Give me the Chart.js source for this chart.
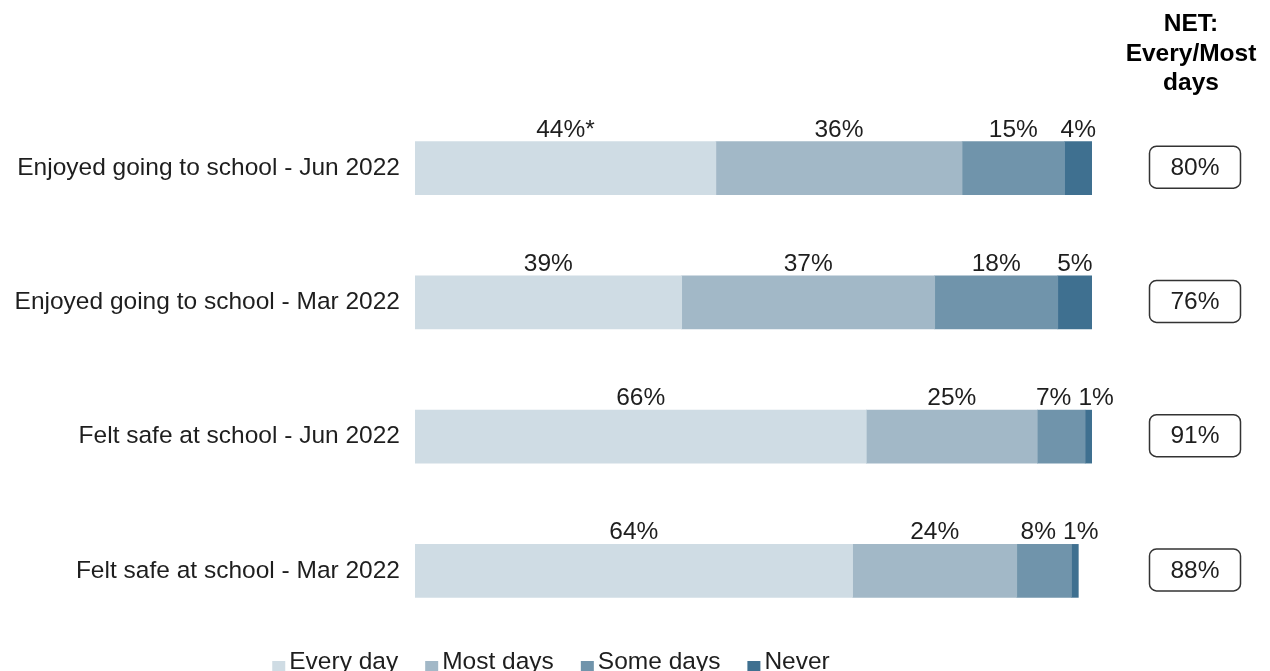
<!DOCTYPE html>
<html>
<head>
<meta charset="utf-8">
<script src="https://cdn.jsdelivr.net/npm/chart.js@4.4.0/dist/chart.umd.min.js"></script>
<style>
  html, body { margin: 0; padding: 0; background: #fff; overflow: hidden; }
</style>
</head>
<body>
<canvas id="myChart" width="1270" height="671"></canvas>
<script>
var categories = [
  'Enjoyed going to school - Jun 2022',
  'Enjoyed going to school - Mar 2022',
  'Felt safe at school - Jun 2022',
  'Felt safe at school - Mar 2022'
];
var everyDay = [44, 39, 66, 64];
var mostDays = [36, 37, 25, 24];
var someDays = [15, 18, 7, 8];
var never = [4, 5, 1, 1];
// significance marker printed after the "Every day" value
var everyDayNote = ['*', '', '', ''];

var seriesNames = ['Every day', 'Most days', 'Some days', 'Never'];
var colours = ['#cfdce4', '#a2b8c7', '#7094ab', '#3f7090'];
var netTitle = ['NET:', 'Every/Most', 'days'];

var FONT = '"Liberation Sans", Arial, sans-serif';
var SIZE = 24.5;
var TEXT = '#1e1e1e';

// % labels above each segment, nudged apart when they collide
var valueLabels = {
  id: 'valueLabels',
  afterDatasetsDraw: function(chart) {
    var ctx = chart.ctx;
    ctx.save();
    ctx.font = SIZE + 'px ' + FONT;
    ctx.fillStyle = TEXT;
    ctx.textAlign = 'center';
    ctx.textBaseline = 'alphabetic';
    categories.forEach(function(cat, i) {
      var items = [];
      chart.data.datasets.forEach(function(ds, d) {
        var el = chart.getDatasetMeta(d).data[i];
        var txt = ds.data[i] + '%' + (d === 0 ? everyDayNote[i] : '');
        items.push({ x: (el.x + el.base) / 2, w: ctx.measureText(txt).width, txt: txt, top: el.y - el.height / 2 });
      });
      for (var k = 1; k < items.length; k++) {
        var a = items[k - 1], b = items[k];
        var overlap = (a.x + a.w / 2 + 7) - (b.x - b.w / 2);
        if (overlap > 0) {
          a.x -= overlap / 2;
          b.x += overlap / 2;
        }
      }
      items.forEach(function(it) {
        ctx.fillText(it.txt, it.x, it.top - 5);
      });
    });
    ctx.restore();
  }
};

// NET column: header plus a rounded box per row
var netColumn = {
  id: 'netColumn',
  afterDraw: function(chart) {
    var ctx = chart.ctx;
    var y = chart.scales.y;
    var cx = chart.chartArea.right + 103;
    ctx.save();
    ctx.fillStyle = '#000';
    ctx.textAlign = 'center';
    ctx.textBaseline = 'alphabetic';
    ctx.font = 'bold ' + SIZE + 'px ' + FONT;
    netTitle.forEach(function(line, i) {
      ctx.fillText(line, cx - 4, 31 + i * 29.5);
    });
    ctx.font = SIZE + 'px ' + FONT;
    categories.forEach(function(cat, i) {
      var cy = y.getPixelForValue(i) - 1;
      var w = 91, h = 42, r = 7;
      var x0 = cx - w / 2, y0 = cy - h / 2;
      ctx.beginPath();
      ctx.moveTo(x0 + r, y0);
      ctx.arcTo(x0 + w, y0, x0 + w, y0 + h, r);
      ctx.arcTo(x0 + w, y0 + h, x0, y0 + h, r);
      ctx.arcTo(x0, y0 + h, x0, y0, r);
      ctx.arcTo(x0, y0, x0 + w, y0, r);
      ctx.closePath();
      ctx.fillStyle = '#fff';
      ctx.fill();
      ctx.lineWidth = 1.5;
      ctx.strokeStyle = '#333';
      ctx.stroke();
      ctx.fillStyle = TEXT;
      ctx.textBaseline = 'middle';
      ctx.fillText((everyDay[i] + mostDays[i]) + '%', cx, cy + 1);
      ctx.textBaseline = 'alphabetic';
    });
    ctx.restore();
  }
};

// legend row along the bottom edge
var bottomLegend = {
  id: 'bottomLegend',
  afterDraw: function(chart) {
    var ctx = chart.ctx;
    ctx.save();
    ctx.font = SIZE + 'px ' + FONT;
    ctx.textBaseline = 'alphabetic';
    var box = 13, gap = 4, space = 27;
    var widths = seriesNames.map(function(n) { return ctx.measureText(n).width; });
    var total = widths.reduce(function(s, w) { return s + box + gap + w; }, 0) + space * (seriesNames.length - 1);
    var x = (chart.chartArea.right + 10) / 2 - total / 2;
    var base = 669;
    seriesNames.forEach(function(n, i) {
      ctx.fillStyle = colours[i];
      ctx.fillRect(x, base - 8, box, box);
      ctx.fillStyle = TEXT;
      ctx.fillText(n, x + box + gap, base);
      x += box + gap + widths[i] + space;
    });
    ctx.restore();
  }
};

var ctx1 = document.getElementById('myChart');
var myChart = new Chart(ctx1, {
  type: 'bar',
  data: {
    labels: categories,
    datasets: [
      { label: seriesNames[0], data: everyDay, backgroundColor: colours[0] },
      { label: seriesNames[1], data: mostDays, backgroundColor: colours[1] },
      { label: seriesNames[2], data: someDays, backgroundColor: colours[2] },
      { label: seriesNames[3], data: never, backgroundColor: colours[3] }
    ]
  },
  options: {
    indexAxis: 'y',
    responsive: false,
    animation: false,
    datasets: { bar: { barThickness: 53, borderWidth: 0 } },
    layout: { padding: { left: 0, right: 178, top: 101, bottom: 33 } },
    plugins: {
      legend: { display: false },
      tooltip: { enabled: false }
    },
    scales: {
      x: { stacked: true, display: false, min: 0, max: 99 },
      y: {
        stacked: true,
        grid: { display: false, drawTicks: false },
        border: { display: false },
        ticks: { color: TEXT, font: { size: SIZE, family: FONT }, padding: 15 },
        afterFit: function(scale) { scale.width = 415; }
      }
    }
  },
  plugins: [valueLabels, netColumn, bottomLegend]
});
</script>
</body>
</html>
